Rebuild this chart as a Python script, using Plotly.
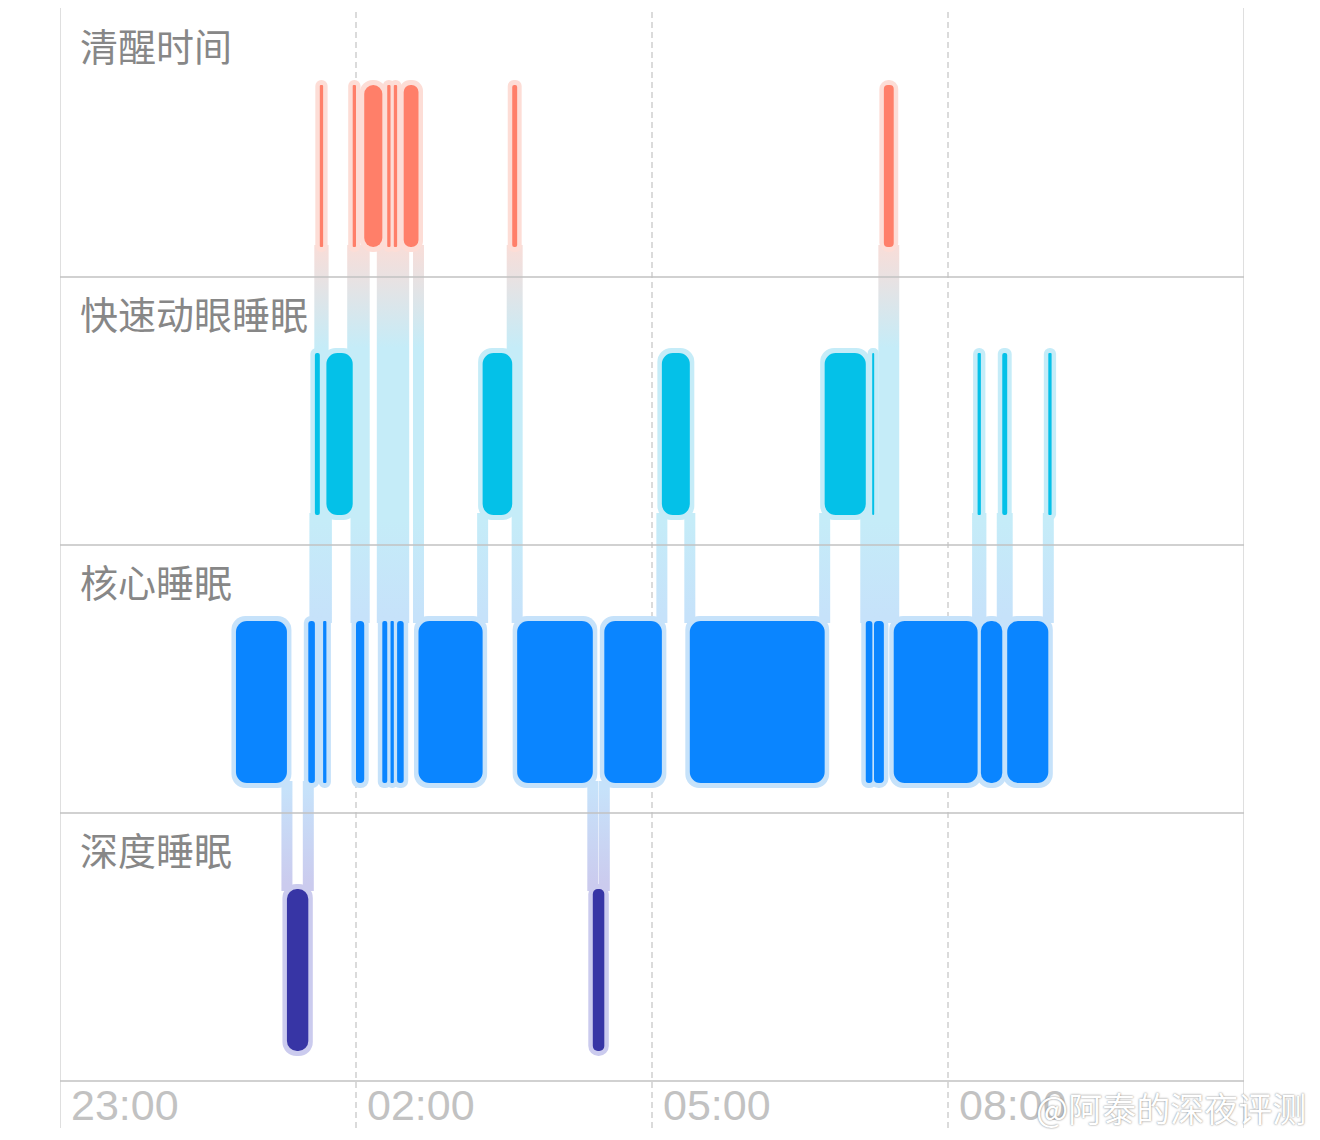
import plotly.graph_objects as go

# ---------------- data ----------------
row_order = ["deep", "core", "rem", "awake"]            # bottom -> top
row_labels = ["深度睡眠", "核心睡眠", "快速动眼睡眠", "清醒时间"]

seg_stage = ["core", "deep", "core", "rem", "awake", "core", "rem", "awake", "core", "awake",
             "core", "awake", "core", "awake", "core", "awake", "core", "rem", "awake", "core",
             "deep", "core", "rem", "core", "rem", "core", "rem", "core", "awake", "core",
             "rem", "core", "rem", "core", "rem"]
seg_start = ["00:47", "01:18", "01:31", "01:35", "01:38", "01:40", "01:42", "01:58", "02:00", "02:05",
             "02:16", "02:19", "02:21", "02:23", "02:25", "02:29", "02:38", "03:17", "03:35", "03:38",
             "04:24", "04:31", "05:06", "05:23", "06:45", "07:10", "07:14", "07:15", "07:21", "07:27",
             "08:18", "08:20", "08:33", "08:36", "09:01"]
sleep_end = "09:03"

tick_labels = ["23:00", "02:00", "05:00", "08:00"]
axis_start, axis_end = "23:00", "11:00"

inner_color = {"awake": "#FF7F69", "rem": "#04C1E8", "core": "#0A85FF", "deep": "#3735A5"}
halo_color = {"awake": "#FDDDD6", "rem": "#C5ECF8", "core": "#C6E2FA", "deep": "#CBCBEE"}


def to_min(s):
    h, m = map(int, s.split(":"))
    v = (h - 23) * 60 + m
    return v + 1440 if v < 0 else v


# ---------------- geometry ----------------
PAGE = 8                      # default body margin of the html page
W, H = 1320 - PAGE, 1140 - PAGE
ML, MR, MT, MB = 60 - PAGE, 76, 8 - PAGE, 12
PW = W - ML - MR
PH = H - MT - MB
ROW = 268.0
X_RANGE = [to_min(axis_start), 720]
Y_RANGE = [-47 / ROW, 4 + 1 / ROW]
mpx = (X_RANGE[1] - X_RANGE[0]) / PW   # minutes per pixel
ypx = 1 / ROW                          # y units per pixel

BOTTOM = 30 * ypx
HEIGHT = 162 * ypx
HALO_X = 4.5 * mpx
HALO_Y = 5 * ypx
MIN_W = 2 * mpx

times = [to_min(s) for s in seg_start] + [to_min(sleep_end)]
segs = [(st, times[i], times[i + 1]) for i, st in enumerate(seg_stage)]

fig = go.Figure()

# ---------------- connectors (base subplot, gradient) ----------------
cx, cy = [], []
for a, b in zip(segs[:-1], segs[1:]):
    ra, rb = row_order.index(a[0]), row_order.index(b[0])
    if ra == rb:
        continue
    t = a[2]
    lo, hi = min(ra, rb), max(ra, rb)
    y0 = lo + BOTTOM + HEIGHT - 2 * ypx
    y1 = hi + BOTTOM + 2 * ypx
    x0, x1 = t - 5.5 * mpx, t + 5.5 * mpx
    cx += [x0, x1, x1, x0, x0, None]
    cy += [y0, y0, y1, y1, y0, None]

band = [
    [0.0, halo_color["deep"]], [0.735 / 4, halo_color["deep"]],
    [1.093 / 4, halo_color["core"]], [1.735 / 4, halo_color["core"]],
    [2.093 / 4, halo_color["rem"]], [2.735 / 4, halo_color["rem"]],
    [3.093 / 4, "#F6DEDA"], [1.0, halo_color["awake"]],
]
fig.add_trace(go.Scatter(
    x=cx, y=cy, mode="none", fill="toself",
    fillgradient=dict(type="vertical", start=0, stop=4, colorscale=band),
    hoverinfo="skip", showlegend=False, xaxis="x", yaxis="y"))


# ---------------- halos and bars (overlay subplot) ----------------
def add_bars(stage, gx, gy, color, radius):
    r = row_order.index(stage)
    ss = [s for s in segs if s[0] == stage]
    if not ss:
        return
    mids = [(s[1] + s[2]) / 2 for s in ss]
    widths = [max(s[2] - s[1], MIN_W) + 2 * gx for s in ss]
    n = len(ss)
    fig.add_trace(go.Bar(
        x=mids, y=[HEIGHT + 2 * gy] * n, base=[r + BOTTOM - gy] * n,
        width=widths,
        marker=dict(color=color, cornerradius=radius, line=dict(width=0)),
        hoverinfo="skip", showlegend=False, xaxis="x2", yaxis="y2"))


for st in row_order:
    add_bars(st, HALO_X, HALO_Y, halo_color[st], 14)
for st in row_order:
    add_bars(st, 0, 0, inner_color[st], 11)

# ---------------- grid lines ----------------
shapes = []
for k in range(4):
    shapes.append(dict(type="line", xref="x", yref="y", x0=X_RANGE[0], x1=X_RANGE[1], y0=k, y1=k,
                       line=dict(color="#C2C2C2", width=1.6), layer="above"))
for xv in X_RANGE:
    shapes.append(dict(type="line", xref="x", yref="y", x0=xv, x1=xv, y0=Y_RANGE[0], y1=Y_RANGE[1],
                       line=dict(color="#D4D4D4", width=1.5), layer="below"))
for lab in tick_labels[1:]:
    xv = to_min(lab)
    shapes.append(dict(type="line", xref="x", yref="y", x0=xv, x1=xv, y0=Y_RANGE[0], y1=Y_RANGE[1],
                       line=dict(color="#C8C8C8", width=1.3, dash="6px,4px"), layer="below"))

# ---------------- texts ----------------
ann = []
for lab in tick_labels:
    ann.append(dict(x=to_min(lab) + 9 * mpx, y=-23.5 * ypx, xref="x", yref="y", text=lab,
                    showarrow=False, xanchor="left", yanchor="middle",
                    font=dict(size=43, color="#C2C2C2", family="Liberation Sans, Arial")))
for r, lab in enumerate(row_labels):
    ann.append(dict(x=18 * mpx, y=r + 1 - 35 * ypx, xref="x", yref="y", text=lab,
                    showarrow=False, xanchor="left", yanchor="middle",
                    font=dict(size=38, color="#878787", family="Noto Sans CJK SC")))
ann.append(dict(x=(1308 - 60) / PW, y=(1128 - 1107) / PH, xref="paper", yref="paper",
                text="@阿泰的深夜评测", showarrow=False, xanchor="right", yanchor="middle",
                font=dict(size=34, color="#FFFFFF", family="Noto Sans CJK SC",
                          shadow="0px 0px 2px #707070")))

fig.update_layout(
    width=W, height=H,
    margin=dict(l=ML, r=MR, t=MT, b=MB, pad=0),
    paper_bgcolor="white", plot_bgcolor="white",
    barmode="overlay",
    showlegend=False,
    xaxis=dict(range=X_RANGE, visible=False, fixedrange=True),
    yaxis=dict(range=Y_RANGE, visible=False, fixedrange=True),
    xaxis2=dict(range=X_RANGE, visible=False, overlaying="x", fixedrange=True),
    yaxis2=dict(range=Y_RANGE, visible=False, overlaying="y", fixedrange=True),
    shapes=shapes,
    annotations=ann,
)

fig.write_html("out.html", config={"displayModeBar": False})
